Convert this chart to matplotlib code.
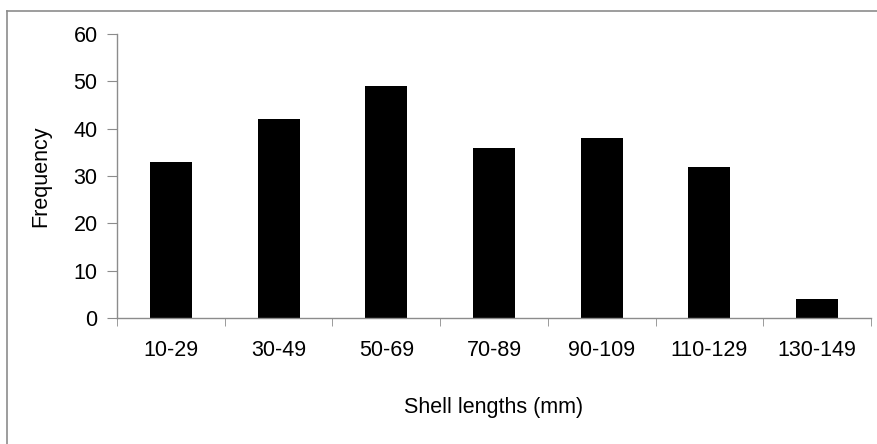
import matplotlib
matplotlib.use('Agg')
import matplotlib.pyplot as plt
from matplotlib.lines import Line2D

plt.rcParams['font.family'] = ['Liberation Sans', 'DejaVu Sans']

categories = ['10-29', '30-49', '50-69', '70-89', '90-109', '110-129', '130-149']
frequency = [33, 42, 49, 36, 38, 32, 4]

fig = plt.figure(figsize=(8.77, 4.44), dpi=100)
ax = fig.add_axes([117/877, 1-318/444, 754/877, 284/444])

x = range(len(categories))
ax.bar(x, frequency, width=0.39, color='black')

ax.set_xlim(-0.5, len(categories) - 0.5)
ax.set_ylim(0, 60)
ax.set_yticks(range(0, 61, 10))
ax.set_xticks(x)
ax.set_xticklabels(categories)
ax.set_xticks([i - 0.5 for i in range(len(categories) + 1)], minor=True)

for s in ['top', 'right']:
    ax.spines[s].set_visible(False)
for s in ['left', 'bottom']:
    ax.spines[s].set_color('#8c8c8c')
    ax.spines[s].set_linewidth(1.0)

ax.tick_params(axis='x', which='major', length=0, pad=16, labelsize=15.5)
ax.tick_params(axis='x', which='minor', length=6, color='#8c8c8c', direction='out')
ax.tick_params(axis='y', length=7, color='#8c8c8c', direction='out', pad=7, labelsize=15.5)

ax.set_xlabel('Shell lengths (mm)', fontsize=15.5, labelpad=26)
ax.set_ylabel('Frequency', fontsize=15.5, labelpad=16)

# outer chart border (top and left only visible in crop)
fig.add_artist(Line2D([7/877, 1], [1-11/444, 1-11/444], color='#8c8c8c', lw=1.2,
                      transform=fig.transFigure))
fig.add_artist(Line2D([7/877, 7/877], [0, 1-11/444], color='#8c8c8c', lw=1.2,
                      transform=fig.transFigure))

fig.savefig('out.png', dpi=100)
